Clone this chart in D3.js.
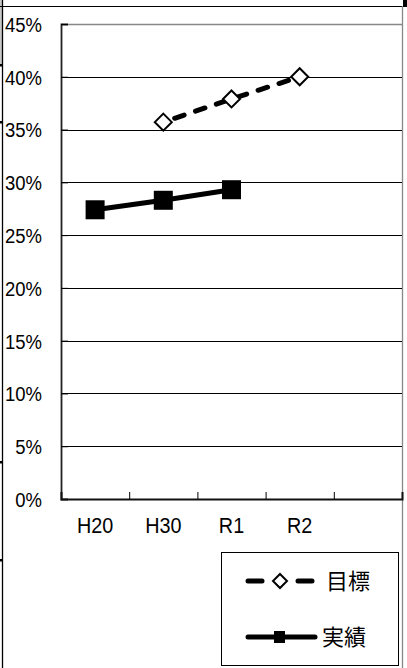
<!DOCTYPE html>
<html>
<head>
<meta charset="utf-8">
<script src="https://cdn.jsdelivr.net/npm/d3@7"></script>
<style>
  html, body { margin: 0; padding: 0; background: #fff; }
  svg { display: block; }
</style>
</head>
<body>
<div id="chart"></div>
<script>
// données
const categories = ['H20', 'H30', 'R1', 'R2', ''];
const targetValues = [null, 35.7, 37.9, 40.0, null];   // 目標
const actualValues = [27.4, 28.3, 29.3, null, null];   // 実績
const yTicks = [0, 5, 10, 15, 20, 25, 30, 35, 40, 45];
const seriesNames = ['目標', '実績'];

const W = 407, H = 668;
const plot = { left: 61, right: 402, top: 24, bottom: 499 };
const latin = '"Liberation Sans", Arial, sans-serif';
const cjk = '"Noto Sans CJK JP", sans-serif';

const svg = d3.select('#chart').append('svg')
    .attr('width', W)
    .attr('height', H);

svg.append('rect').attr('width', W).attr('height', H).attr('fill', '#fff');

// restes du cadre de la capture
svg.append('rect').attr('x', 0).attr('y', 0).attr('width', 2).attr('height', 65).attr('fill', '#c8c8c8');
svg.append('line').attr('x1', 0).attr('x2', W).attr('y1', 6.5).attr('y2', 6.5)
    .attr('stroke', '#000').attr('stroke-width', 1);
svg.append('line').attr('x1', 2.5).attr('x2', 2.5).attr('y1', 0).attr('y2', H)
    .attr('stroke', '#000').attr('stroke-width', 1.3);
[65, 122, 462, 560].forEach(y => {
    svg.append('rect').attr('x', 0).attr('y', y - 1).attr('width', 3).attr('height', 2.5).attr('fill', '#000');
});
svg.append('line').attr('x1', 402.5).attr('x2', 402.5).attr('y1', 6).attr('y2', H)
    .attr('stroke', '#888').attr('stroke-width', 1.3);
svg.append('rect').attr('x', 403).attr('y', 0).attr('width', 4).attr('height', 7).attr('fill', '#000');

const x = d3.scaleBand()
    .domain(categories)
    .range([plot.left, plot.right])
    .padding(0);
const cx = (d, i) => x(categories[i]) + x.bandwidth() / 2;

const y = d3.scaleLinear()
    .domain([0, 45])
    .range([plot.bottom, plot.top]);

// grille
svg.append('g')
    .selectAll('line')
    .data(yTicks.filter(t => t > 0))
    .enter().append('line')
    .attr('x1', plot.left)
    .attr('x2', plot.right)
    .attr('y1', d => Math.round(y(d)) + 0.5)
    .attr('y2', d => Math.round(y(d)) + 0.5)
    .attr('stroke', d => d === 45 ? '#888' : '#000')
    .attr('stroke-width', d => d === 45 ? 1.6 : 1);

// axe Y
const yAxis = svg.append('g')
    .attr('transform', `translate(${plot.left},0)`)
    .call(d3.axisLeft(y).tickValues(yTicks).tickSize(-7).tickPadding(0).tickFormat(d => d + '%'));
yAxis.select('.domain').attr('stroke', '#222').attr('stroke-width', 1.8);
yAxis.selectAll('.tick line').attr('stroke', '#000');
yAxis.selectAll('.tick text')
    .style('font-family', latin)
    .style('font-size', '21px')
    .attr('fill', '#000')
    .attr('x', 0)
    .attr('dy', '0.35em')
    .attr('transform', 'translate(-19,0) scale(0.88,1)');

// axe X : graduations entre les catégories
const xEdges = d3.scaleLinear().domain([0, categories.length]).range([plot.left, plot.right]);
const xAxis = svg.append('g')
    .attr('transform', `translate(0,${plot.bottom})`)
    .call(d3.axisBottom(xEdges).tickValues(d3.range(1, categories.length)).tickSize(-7).tickFormat(''));
xAxis.select('.domain').attr('stroke', '#111').attr('stroke-width', 2);

svg.append('g')
    .selectAll('text')
    .data(categories)
    .enter().append('text')
    .attr('transform', (d, i) => `translate(${cx(d, i)},533) scale(0.9,1)`)
    .attr('text-anchor', 'middle')
    .style('font-family', latin)
    .style('font-size', '22px')
    .text(d => d);

// séries
const toPoints = vals => vals.map((v, i) => ({ i, v })).filter(p => p.v !== null);
const line = d3.line()
    .x(p => cx(null, p.i))
    .y(p => y(p.v));

const target = toPoints(targetValues);
const actual = toPoints(actualValues);

svg.append('path')
    .datum(actual)
    .attr('fill', 'none')
    .attr('stroke', '#000')
    .attr('stroke-width', 5)
    .attr('d', line);

svg.selectAll('.sq')
    .data(actual)
    .enter().append('rect')
    .attr('x', p => cx(null, p.i) - 9.5)
    .attr('y', p => y(p.v) - 9.5)
    .attr('width', 19)
    .attr('height', 19)
    .attr('fill', '#000');

svg.append('path')
    .datum(target)
    .attr('fill', 'none')
    .attr('stroke', '#000')
    .attr('stroke-width', 5)
    .attr('stroke-linecap', 'round')
    .attr('stroke-dasharray', '10,12')
    .attr('stroke-dashoffset', -12)
    .attr('d', line);

const diamond = s => `M0,${-s}L${s},0L0,${s}L${-s},0Z`;
svg.selectAll('.dm')
    .data(target)
    .enter().append('path')
    .attr('transform', p => `translate(${cx(null, p.i)},${y(p.v)})`)
    .attr('d', diamond(8.5))
    .attr('fill', '#fff')
    .attr('stroke', '#000')
    .attr('stroke-width', 2);

// légende
const legend = svg.append('g');
legend.append('rect')
    .attr('x', 221.5).attr('y', 552.5)
    .attr('width', 177).attr('height', 113)
    .attr('fill', '#fff')
    .attr('stroke', '#000')
    .attr('stroke-width', 1);

const ly = [581, 637];
legend.append('line')
    .attr('x1', 248).attr('x2', 262).attr('y1', ly[0]).attr('y2', ly[0])
    .attr('stroke', '#000').attr('stroke-width', 5).attr('stroke-linecap', 'round');
legend.append('line')
    .attr('x1', 298).attr('x2', 312).attr('y1', ly[0]).attr('y2', ly[0])
    .attr('stroke', '#000').attr('stroke-width', 5).attr('stroke-linecap', 'round');
legend.append('path')
    .attr('transform', `translate(280,${ly[0]})`)
    .attr('d', diamond(7))
    .attr('fill', '#fff').attr('stroke', '#000').attr('stroke-width', 2);

legend.append('line')
    .attr('x1', 248).attr('x2', 315).attr('y1', ly[1]).attr('y2', ly[1])
    .attr('stroke', '#000').attr('stroke-width', 5).attr('stroke-linecap', 'round');
legend.append('rect')
    .attr('x', 274).attr('y', ly[1] - 6).attr('width', 11).attr('height', 12).attr('fill', '#000');

legend.selectAll('text')
    .data(seriesNames)
    .enter().append('text')
    .attr('x', (d, i) => i === 0 ? 326 : 322)
    .attr('y', (d, i) => ly[i])
    .attr('dy', '0.36em')
    .style('font-family', cjk)
    .style('font-size', '22px')
    .text(d => d);
</script>
</body>
</html>
